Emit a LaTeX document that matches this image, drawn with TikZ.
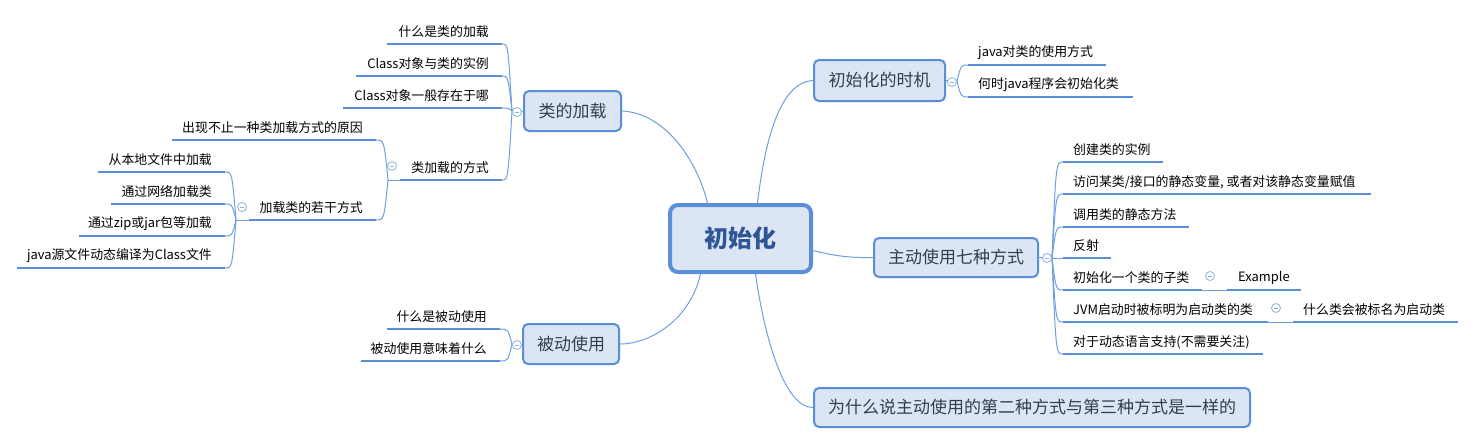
\documentclass[tikz,border=0pt]{standalone}
\usepackage{fontspec}
\setmainfont{Noto Sans CJK SC}
\usetikzlibrary{calc}
\definecolor{bord}{HTML}{5A8ED6}
\definecolor{fillc}{HTML}{DBE5F3}
\definecolor{conn}{HTML}{6F9FE0}
\definecolor{ulc}{HTML}{5A8ED6}
\definecolor{topictext}{HTML}{333F50}
\definecolor{roottext}{HTML}{2F5597}
\definecolor{circ}{HTML}{8DB0E2}
\tikzset{
  rootbox/.style={draw=bord, fill=fillc, line width=4pt, rounded corners=8pt, minimum width=141pt, minimum height=67pt, font=\fontsize{24}{28}\selectfont\bfseries, text=roottext, inner sep=0pt},
  topic/.style={draw=bord, fill=fillc, line width=2pt, rounded corners=5pt, font=\fontsize{17}{20}\selectfont, text=topictext, inner sep=0pt},
  leafL/.style={anchor=east, font=\fontsize{12.9}{15}\selectfont, inner sep=0pt, text=black},
  leafR/.style={anchor=west, font=\fontsize{12.9}{15}\selectfont, inner sep=0pt, text=black},
  ul/.style={draw=ulc, line width=2.7pt},
  cn/.style={draw=conn, line width=1pt},
  tog/.style={circle, draw=circ, fill=white, line width=0.8pt, minimum size=9pt, inner sep=0pt,
    path picture={\draw[circ, line width=0.8pt] ([xshift=-2.3pt]path picture bounding box.center) -- ([xshift=2.3pt]path picture bounding box.center);}},
}
\newcommand\brl[2]{\draw[cn] (#1) .. controls ($(#1|-#2)+(-4,0)$) .. (#2);}
\newcommand\brr[2]{\draw[cn] (#1) .. controls ($(#1|-#2)+(4,0)$) .. (#2);}
\begin{document}
\begin{tikzpicture}[x=1pt,y=-1pt]
\useasboundingbox (0,0) rectangle (1476,445);

% root and main topics
\node[rootbox] (root) at (740.5,238.5) {初始化};
\node[topic, minimum width=97pt, minimum height=40pt] (t1) at (572.5,111) {类的加载};
\node[topic, minimum width=96pt, minimum height=40pt] (t2) at (571,344) {被动使用};
\node[topic, minimum width=131pt, minimum height=41pt] (t3) at (879.5,80.5) {初始化的时机};
\node[topic, minimum width=164pt, minimum height=39pt] (t4) at (956,257.5) {主动使用七种方式};
\node[topic, minimum width=436pt, minimum height=39pt] (t5) at (1032,407.5) {为什么说主动使用的第二种方式与第三种方式是一样的};

% root connectors
\draw[cn] (t1.east) .. controls (665,113) and (697,160) .. ([xshift=-33pt]root.north);
\draw[cn] ([xshift=17pt]root.north) .. controls (765,140) and (780,82) .. (t3.west);
\draw[cn] ([yshift=-12pt]root.east) .. controls (835,256) and (850,258) .. (t4.west);
\draw[cn] ([xshift=-40pt]root.south) .. controls (690,320) and (650,344) .. (t2.east);
\draw[cn] ([xshift=15pt]root.south) .. controls (765,340) and (785,408) .. (t5.west);

% ---- group 类的加载
\coordinate (p1) at (512,111);
\draw[cn] (t1.west) -- (p1);
\node[leafL] (a1) at (489,32) {什么是类的加载};
\node[leafL] (a2) at (489,64) {Class对象与类的实例};
\node[leafL] (a3) at (489,96) {Class对象一般存在于哪};
\node[leafL] (a4) at (489,168) {类加载的方式};
\draw[ul] (502,44) coordinate (a1r) -- (387,44);
\draw[ul] (502,76) coordinate (a2r) -- (356,76);
\draw[ul] (502,108) coordinate (a3r) -- (343,108);
\draw[ul] (502,180) coordinate (a4r) -- (400,180) coordinate (a4l);
\brl{p1}{a1r}\brl{p1}{a2r}\brl{p1}{a3r}\brl{p1}{a4r}

% subgroup 类加载的方式
\coordinate (p2) at (388,180);
\draw[cn] (a4l) -- (p2);
\node[leafL] (b1) at (363,128) {出现不止一种类加载方式的原因};
\node[leafL] (b2) at (363,208) {加载类的若干方式};
\draw[ul] (376,140) coordinate (b1r) -- (172,140);
\draw[ul] (376,220) coordinate (b2r) -- (249,220) coordinate (b2l);
\brl{p2}{b1r}\brl{p2}{b2r}

% subgroup 加载类的若干方式
\coordinate (p3) at (236,220);
\draw[cn] (b2l) -- (p3);
\node[leafL] (c1) at (212,160) {从本地文件中加载};
\node[leafL] (c2) at (212,192) {通过网络加载类};
\node[leafL] (c3) at (212,224) {通过zip或jar包等加载};
\node[leafL] (c4) at (212,256) {java源文件动态编译为Class文件};
\draw[ul] (225,172) coordinate (c1r) -- (98,172);
\draw[ul] (225,204) coordinate (c2r) -- (111,204);
\draw[ul] (225,236) coordinate (c3r) -- (79,236);
\draw[ul] (225,268) coordinate (c4r) -- (17,268);
\brl{p3}{c1r}\brl{p3}{c2r}\brl{p3}{c3r}\brl{p3}{c4r}

% ---- group 被动使用
\coordinate (p4) at (512,344);
\draw[cn] (t2.west) -- (p4);
\node[leafL] (d1) at (487,317) {什么是被动使用};
\node[leafL] (d2) at (487,349) {被动使用意味着什么};
\draw[ul] (500,329) coordinate (d1r) -- (387,329);
\draw[ul] (500,361) coordinate (d2r) -- (361,361);
\brl{p4}{d1r}\brl{p4}{d2r}

% ---- group 初始化的时机
\coordinate (p5) at (957,81);
\draw[cn] (t3.east) -- (p5);
\node[leafR] (e1) at (978,53) {java对类的使用方式};
\node[leafR] (e2) at (978,85) {何时java程序会初始化类};
\draw[ul] (968,65) coordinate (e1l) -- (1106,65);
\draw[ul] (968,97) coordinate (e2l) -- (1133,97);
\brr{p5}{e1l}\brr{p5}{e2l}

% ---- group 主动使用七种方式
\coordinate (p6) at (1052,258);
\draw[cn] (t4.east) -- (p6);
\node[leafR] (f1) at (1073,150) {创建类的实例};
\node[leafR] (f2) at (1073,182) {访问某类/接口的静态变量, 或者对该静态变量赋值};
\node[leafR] (f3) at (1073,215) {调用类的静态方法};
\node[leafR] (f4) at (1073,246) {反射};
\node[leafR] (f5) at (1073,278) {初始化一个类的子类};
\node[leafR] (f6) at (1073,310) {JVM启动时被标明为启动类的类};
\node[leafR] (f7) at (1073,342) {对于动态语言支持(不需要关注)};
\draw[ul] (1063,162) coordinate (f1l) -- (1163,162);
\draw[ul] (1063,194) coordinate (f2l) -- (1371,194);
\draw[ul] (1063,227) coordinate (f3l) -- (1189,227);
\draw[ul] (1063,258) coordinate (f4l) -- (1111,258);
\draw[ul] (1063,290) coordinate (f5l) -- (1202,290) coordinate (f5r);
\draw[ul] (1063,322) coordinate (f6l) -- (1268,322) coordinate (f6r);
\draw[ul] (1063,354) coordinate (f7l) -- (1263,354);
\brr{p6}{f1l}\brr{p6}{f2l}\brr{p6}{f3l}\draw[cn] (p6) -- (f4l);
\brr{p6}{f5l}\brr{p6}{f6l}\brr{p6}{f7l}

% sub-children
\node[leafR] (g1) at (1238,278) {Example};
\draw[ul] (1227,290) coordinate (g1l) -- (1301,290);
\draw[cn] (f5r) -- (g1l);
\node[leafR] (g2) at (1303,310) {什么类会被标名为启动类};
\draw[ul] (1293,322) coordinate (g2l) -- (1458,322);
\draw[cn] (f6r) -- (g2l);

% collapse toggles
\node[tog] (k1) at (517,112) {};
\node[tog] (k2) at (392,166) {};
\node[tog] (k3) at (242,207) {};
\node[tog] (k4) at (517,345) {};
\node[tog] (k5) at (952,82) {};
\node[tog] (k6) at (1047,258) {};
\node[tog] (k7) at (1210,276) {};
\node[tog] (k8) at (1276,308) {};
\end{tikzpicture}
\end{document}
